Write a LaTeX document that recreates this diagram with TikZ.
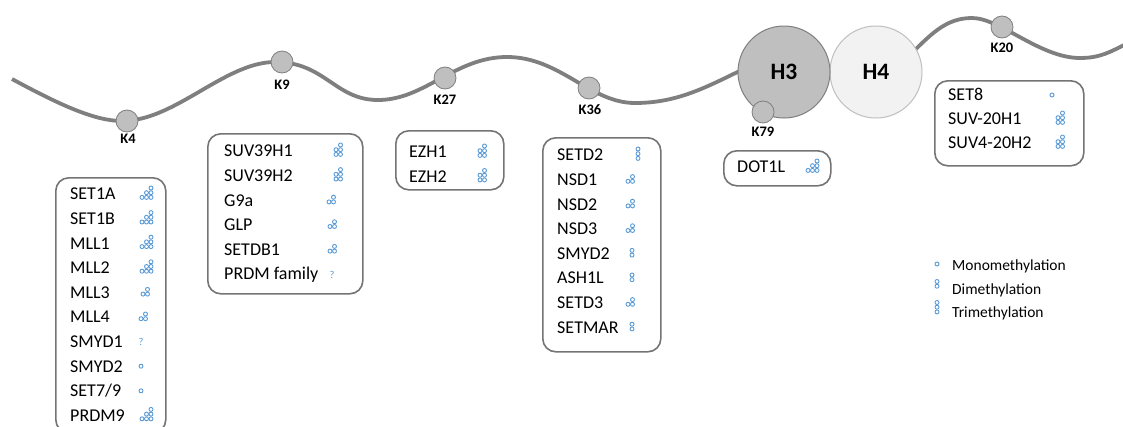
\documentclass[tikz,border=0pt]{standalone}
\usepackage{fontspec}
\setmainfont{Carlito}

\definecolor{wavegray}{HTML}{7F7F7F}
\definecolor{knobgray}{HTML}{BFBFBF}
\definecolor{boxgray}{HTML}{747474}
\definecolor{hfourfill}{HTML}{F2F2F2}
\definecolor{methblue}{HTML}{5B9BD5}

\tikzset{
  wave/.style={draw=wavegray, line width=3.8pt},
  lys/.style={circle, draw=wavegray, fill=knobgray, line width=0.8pt,
    minimum size=22pt, inner sep=0pt},
  lyslabel/.style={font=\bfseries\fontsize{14.5}{16}\selectfont, inner sep=0pt},
  histone/.style={circle, minimum size=92pt, inner sep=0pt, line width=1pt,
    font=\bfseries\fontsize{23.5}{26}\selectfont},
  enzbox/.style={draw=boxgray, line width=1.6pt, rounded corners=13pt,
    anchor=north west, inner sep=0pt},
  enz/.style={anchor=base west, font=\fontsize{18}{20}\selectfont, inner sep=0pt},
  legtext/.style={anchor=base west, font=\fontsize{15.5}{18}\selectfont, inner sep=0pt},
  mdot/.style={draw=methblue, fill=white, line width=0.9pt},
  unknown/.style={text=methblue, font=\fontsize{10.5}{12}\selectfont, inner sep=0pt}
}

% methylation glyph: x, text centre y, tallest column, column heights
\newcommand{\mglyph}[4]{%
  \foreach \hh [count=\ci from 0] in {#4} {
    \foreach \kk in {1,...,\hh} {
      \path[mdot] ({#1+\ci*4.5},{#2+1.7*(#3-1)-(\kk-1)*4.7}) circle[radius=2pt];
    }
  }%
}

\begin{document}
\begin{tikzpicture}[x=1pt,y=-1pt]
\useasboundingbox (0,0) rectangle (1123,426);
\clip (0,0) rectangle (1123,426);

% histone tails
\draw[wave] (12,79) .. controls (60,105) and (95,121) .. (122,121)
  .. controls (175,121) and (225,62) .. (275,62)
  .. controls (325,62) and (335,100) .. (378,100)
  .. controls (425,100) and (455,57) .. (507,57)
  .. controls (560,57) and (590,103) .. (635,103)
  .. controls (680,103) and (710,85) .. (750,66);
\draw[wave] (905,60) .. controls (930,35) and (945,18) .. (972,18)
  .. controls (1000,18) and (1040,58) .. (1080,58)
  .. controls (1100,58) and (1110,52) .. (1126,44);

% histones
\node[histone, fill=hfourfill, draw=knobgray] (H4) at (876,72) {H4};
\node[histone, fill=knobgray, draw=wavegray] (H3) at (784,72) {H3};

% lysine residues
\node[lys] (K4) at (127,121) {};
\node[lys] (K9) at (282,62) {};
\node[lys] (K27) at (445,78) {};
\node[lys] (K36) at (589,88) {};
\node[lys] (K79) at (763,112) {};
\node[lys] (K20) at (1002,27) {};
\node[lyslabel] (K4l) at (128,139) {K4};
\node[lyslabel] (K9l) at (282,85) {K9};
\node[lyslabel] (K27l) at (445,100) {K27};
\node[lyslabel] (K36l) at (590,110) {K36};
\node[lyslabel] (K79l) at (763,132) {K79};
\node[lyslabel] (K20l) at (1002,48) {K20};

% K4 methyltransferases
\node[enzbox, minimum width=110pt, minimum height=255pt] (boxK4) at (55,177) {};
\foreach \name [count=\i from 0] in {SET1A,SET1B,MLL1,MLL2,MLL3,MLL4,SMYD1,SMYD2,SET7/9,PRDM9}
  \node[enz] (k4e\i) at (70,{194+24.6*\i+5.8}) {\name};
\mglyph{142}{194}{3}{1,2,3}
\mglyph{142}{218.6}{3}{1,2,3}
\mglyph{142}{243.2}{3}{1,2,3}
\mglyph{142}{267.8}{3}{1,2,3}
\mglyph{143}{292.4}{2}{1,2}
\mglyph{141}{317}{2}{1,2}
\node[unknown] (q1) at (141,341.6) {?};
\mglyph{141}{366.2}{1}{1}
\mglyph{141}{390.8}{1}{1}
\mglyph{142}{415.4}{3}{1,2,3}

% K9 methyltransferases
\node[enzbox, minimum width=155pt, minimum height=160pt] (boxK9) at (207,133) {};
\foreach \name [count=\i from 0] in {SUV39H1,SUV39H2,G9a,GLP,SETDB1,PRDM family}
  \node[enz] (k9e\i) at (224,{151+24.6*\i+5.8}) {\name};
\mglyph{336}{151}{3}{2,3}
\mglyph{336}{175.6}{3}{2,3}
\mglyph{329}{200.2}{2}{1,2}
\mglyph{330}{224.8}{2}{1,2}
\mglyph{330}{249.4}{2}{1,2}
\node[unknown] (q2) at (332,275) {?};

% K27 methyltransferases
\node[enzbox, minimum width=108pt, minimum height=59pt] (boxK27) at (395,130) {};
\node[enz] (k27e0) at (409,{152+5.8}) {EZH1};
\node[enz] (k27e1) at (409,{176.5+5.8}) {EZH2};
\mglyph{480}{152}{3}{2,3}
\mglyph{480}{176.5}{3}{2,3}

% K36 methyltransferases
\node[enzbox, minimum width=118pt, minimum height=214pt] (boxK36) at (542,137) {};
\foreach \name [count=\i from 0] in {SETD2,NSD1,NSD2,NSD3,SMYD2,ASH1L,SETD3,SETMAR}
  \node[enz] (k36e\i) at (557,{155+24.6*\i+5.8}) {\name};
\mglyph{638}{155}{3}{3}
\mglyph{628}{179.6}{2}{1,2}
\mglyph{628}{204.2}{2}{1,2}
\mglyph{628}{228.8}{2}{1,2}
\mglyph{632}{253.4}{2}{2}
\mglyph{632}{278}{2}{2}
\mglyph{628}{302.6}{2}{1,2}
\mglyph{632}{327.2}{2}{2}

% K79 methyltransferase
\node[enzbox, minimum width=107pt, minimum height=35pt] (boxK79) at (723,150) {};
\node[enz] (k79e0) at (737,{167+5.8}) {DOT1L};
\mglyph{808}{167}{3}{1,2,3}

% K20 methyltransferases
\node[enzbox, minimum width=149pt, minimum height=85pt] (boxK20) at (934,80) {};
\node[enz] (k20e0) at (948,{95+5.8}) {SET8};
\node[enz] (k20e1) at (948,{119+5.8}) {SUV-20H1};
\node[enz] (k20e2) at (948,{143+5.8}) {SUV4-20H2};
\mglyph{1052}{95}{1}{1}
\mglyph{1058}{119}{3}{2,3}
\mglyph{1058}{143}{3}{2,3}

% legend
\mglyph{937}{264}{1}{1}
\mglyph{937}{284.5}{2}{2}
\mglyph{937}{308.5}{3}{3}
\node[legtext] (leg1) at (952,{265+5}) {Monomethylation};
\node[legtext] (leg2) at (952,{289+5}) {Dimethylation};
\node[legtext] (leg3) at (952,{312+5}) {Trimethylation};
\end{tikzpicture}
\end{document}
